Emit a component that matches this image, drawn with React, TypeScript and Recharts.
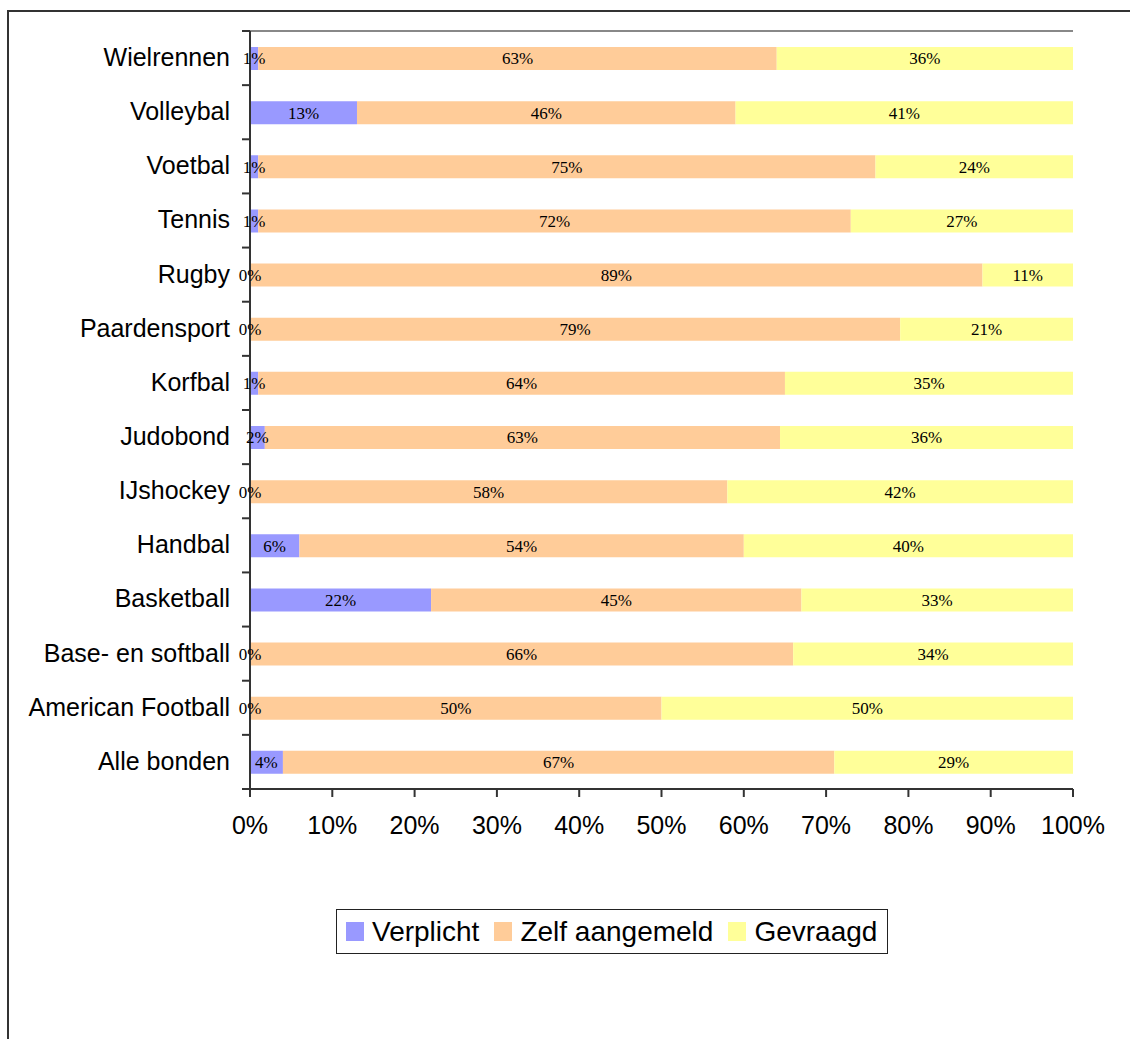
import React from "react";
import {
  BarChart,
  Bar,
  XAxis,
  YAxis,
  LabelList,
} from "recharts";

const categories = [
  "Wielrennen",
  "Volleybal",
  "Voetbal",
  "Tennis",
  "Rugby",
  "Paardensport",
  "Korfbal",
  "Judobond",
  "IJshockey",
  "Handbal",
  "Basketball",
  "Base- en softball",
  "American Football",
  "Alle bonden",
];

const verplicht = [1, 13, 1, 1, 0, 0, 1, 1.8, 0, 6, 22, 0, 0, 4];
const zelfAangemeld = [63, 46, 75, 72, 89, 79, 64, 62.6, 58, 54, 45, 66, 50, 67];
const gevraagd = [36, 41, 24, 27, 11, 21, 35, 35.6, 42, 40, 33, 34, 50, 29];

const seriesNames = ["Verplicht", "Zelf aangemeld", "Gevraagd"];
const seriesColors = ["#9999FF", "#FFCC99", "#FFFF99"];

const xTicks = [0, 10, 20, 30, 40, 50, 60, 70, 80, 90, 100];

const data = categories.map((name, i) => ({
  name,
  verplicht: verplicht[i],
  zelf: zelfAangemeld[i],
  gevraagd: gevraagd[i],
}));

const SANS = "'Liberation Sans', Arial, sans-serif";
const SERIF = "'Liberation Serif', 'Times New Roman', serif";
const LABEL_SIZE = 17;
const AXIS_SIZE = 25;

const pct = (v: any) => `${Math.round(Number(v))}%`;

function CategoryTick(props: any) {
  const { x, y, payload, index } = props;
  const half = payload && payload.offset ? payload.offset : 27;
  const axisX = x + 8;
  const last = index === categories.length - 1;
  return (
    <g>
      <line x1={axisX - 8} x2={axisX} y1={y - half} y2={y - half} stroke="#333" strokeWidth={2} />
      {last && (
        <line x1={axisX - 8} x2={axisX} y1={y + half} y2={y + half} stroke="#333" strokeWidth={2} />
      )}
      <text
        x={axisX - 20}
        y={y - 1}
        dy="0.355em"
        textAnchor="end"
        fontFamily={SANS}
        fontSize={AXIS_SIZE}
        fill="#000"
      >
        {payload.value}
      </text>
    </g>
  );
}

// label of a segment, centred; zero-width "Verplicht" segments get their 0% at the bar start
function SegmentLabel(props: any) {
  const { x, y, width, height, value, index, zeroBefore } = props;
  const cy = y + height / 2;
  return (
    <g>
      <text
        x={x + width / 2}
        y={cy}
        dy="0.35em"
        textAnchor="middle"
        fontFamily={SERIF}
        fontSize={LABEL_SIZE}
        fill="#000"
      >
        {pct(value)}
      </text>
      {zeroBefore && verplicht[index] === 0 && (
        <text
          x={x}
          y={cy}
          dy="0.35em"
          textAnchor="middle"
          fontFamily={SERIF}
          fontSize={LABEL_SIZE}
          fill="#000"
        >
          {pct(verplicht[index])}
        </text>
      )}
    </g>
  );
}

export default function App() {
  return (
    <div
      style={{
        position: "absolute",
        left: 0,
        top: 0,
        width: 1130,
        height: 1039,
        overflow: "hidden",
        background: "#fff",
      }}
    >
      <div
        style={{
          position: "absolute",
          left: 7,
          top: 10,
          width: 2000,
          height: 2000,
          borderLeft: "2px solid #333",
          borderTop: "2px solid #333",
        }}
      />

      <div style={{ position: "absolute", left: 0, top: 0 }}>
        <BarChart
          width={1130}
          height={1039}
          data={data}
          layout="vertical"
          barSize={23}
          margin={{ top: 30, right: 57, bottom: 190, left: 10 }}
        >
          <XAxis
            type="number"
            domain={[0, 100]}
            ticks={xTicks}
            tickFormatter={(v: number) => `${v}%`}
            axisLine={{ stroke: "#333", strokeWidth: 2 }}
            tickLine={{ stroke: "#333", strokeWidth: 2 }}
            tickSize={8}
            tickMargin={19}
            height={60}
            interval={0}
            tick={{ fontFamily: SANS, fontSize: AXIS_SIZE, fill: "#000" }}
          />
          <XAxis
            xAxisId="top"
            orientation="top"
            type="number"
            domain={[0, 100]}
            height={1}
            tick={false}
            tickLine={false}
            axisLine={{ stroke: "#888", strokeWidth: 2 }}
          />
          <YAxis
            type="category"
            dataKey="name"
            width={240}
            interval={0}
            axisLine={{ stroke: "#333", strokeWidth: 2 }}
            tickLine={false}
            tick={<CategoryTick />}
          />
          <YAxis
            yAxisId="right"
            orientation="right"
            type="category"
            dataKey="name"
            width={0}
            tick={false}
            tickLine={false}
            axisLine={{ stroke: "#888", strokeWidth: 2 }}
          />

          <Bar dataKey="verplicht" name={seriesNames[0]} stackId="a" fill={seriesColors[0]} isAnimationActive={false}>
            <LabelList dataKey="verplicht" content={<SegmentLabel />} />
          </Bar>
          <Bar dataKey="zelf" name={seriesNames[1]} stackId="a" fill={seriesColors[1]} isAnimationActive={false}>
            <LabelList dataKey="zelf" content={<SegmentLabel zeroBefore />} />
          </Bar>
          <Bar dataKey="gevraagd" name={seriesNames[2]} stackId="a" fill={seriesColors[2]} isAnimationActive={false}>
            <LabelList dataKey="gevraagd" content={<SegmentLabel />} />
          </Bar>
        </BarChart>
      </div>

      <div
        style={{
          position: "absolute",
          left: 336,
          top: 909,
          display: "flex",
          alignItems: "center",
          border: "1px solid #222",
          height: 45,
          boxSizing: "border-box",
          padding: "0 10px 0 9px",
          fontFamily: SANS,
          fontSize: 28,
          background: "#fff",
          whiteSpace: "nowrap",
        }}
      >
        {seriesNames.map((n, i) => (
          <span
            key={n}
            style={{ display: "flex", alignItems: "center", marginRight: i < 2 ? 15 : 0 }}
          >
            <span
              style={{
                display: "inline-block",
                width: 18,
                height: 19,
                background: seriesColors[i],
                marginRight: 8,
              }}
            />
            {n}
          </span>
        ))}
      </div>
    </div>
  );
}
